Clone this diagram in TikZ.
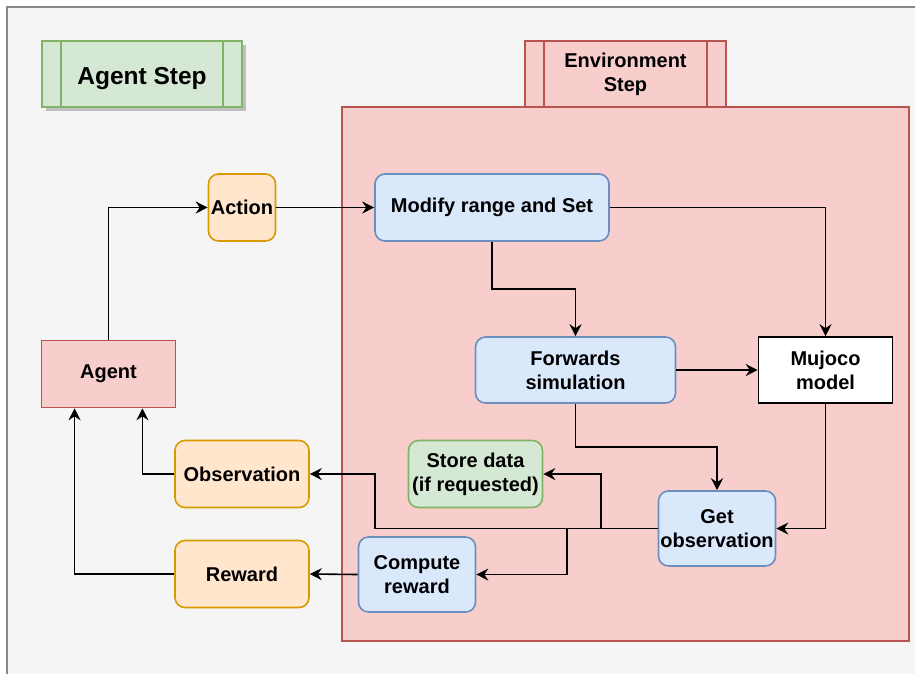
\documentclass[tikz,border=0pt]{standalone}
\usepackage{fontspec}
\setmainfont{Liberation Sans}
\usetikzlibrary{arrows.meta,calc}
\definecolor{grnF}{HTML}{D5E8D4}\definecolor{grnS}{HTML}{82B366}
\definecolor{redF}{HTML}{F8CECC}\definecolor{redS}{HTML}{B85450}
\definecolor{orgF}{HTML}{FFE6CC}\definecolor{orgS}{HTML}{D79B00}
\definecolor{bluF}{HTML}{DAE8FC}\definecolor{bluS}{HTML}{6C8EBF}
\definecolor{bgF}{HTML}{F5F5F5}\definecolor{bgS}{HTML}{888888}
\tikzset{
  base/.style={draw, line width=1.6pt, inner sep=0pt, align=center,
    font=\bfseries\fontsize{20}{24}\selectfont},
  bluebox/.style={base, fill=bluF, draw=bluS, rounded corners=10pt},
  orgbox/.style={base, fill=orgF, draw=orgS, rounded corners=10pt},
  grnbox/.style={base, fill=grnF, draw=grnS, rounded corners=10pt},
  redbox/.style={base, fill=redF, draw=redS},
  plainbox/.style={base, fill=white, draw=black},
  arr/.style={line width=1.6pt, -{Stealth[length=12pt,width=12pt,inset=4pt]}},
}
\begin{document}
\begin{tikzpicture}[x=1pt,y=-1pt]
\useasboundingbox (0,0) rectangle (915,673);
\clip (0,0) rectangle (915,673);
\fill[white] (0,0) rectangle (915,673);
\draw[fill=bgF, draw=bgS, line width=2pt] (7,7) rectangle (930,690);

% environment container
\node[redbox, minimum width=567pt, minimum height=534pt] (env) at (625.5,374) {};
\node[redbox, minimum width=201pt, minimum height=66pt] (envstep) at (625.5,74) {Environment\\Step};
\draw[redS, line width=1.6pt] ($(envstep.north west)+(20,0)$) -- ($(envstep.south west)+(20,0)$);
\draw[redS, line width=1.6pt] ($(envstep.north east)+(-20,0)$) -- ($(envstep.south east)+(-20,0)$);

% agent step
\fill[black!25] (46,45) rectangle (246,111);
\node[base, fill=grnF, draw=grnS, minimum width=200pt, minimum height=66pt,
  text height=22pt, text depth=2pt,
  font=\bfseries\fontsize{24.5}{29}\selectfont] (agentstep) at (142,74) {Agent Step};
\draw[grnS, line width=1.6pt] ($(agentstep.north west)+(20,0)$) -- ($(agentstep.south west)+(20,0)$);
\draw[grnS, line width=1.6pt] ($(agentstep.north east)+(-20,0)$) -- ($(agentstep.south east)+(-20,0)$);

% nodes
\node[orgbox, minimum width=67pt, minimum height=67pt] (action) at (242,207.5) {Action};
\node[bluebox, minimum width=234pt, minimum height=67pt] (modify) at (492,207.5) {Modify range and Set};
\node[bluebox, minimum width=200pt, minimum height=66pt] (fwd) at (575.5,370) {Forwards\\simulation};
\node[plainbox, minimum width=134pt, minimum height=66pt] (mujoco) at (825.5,370) {Mujoco\\model};
\node[redbox, minimum width=134pt, minimum height=67pt] (agent) at (108.5,374) {Agent};
\node[orgbox, minimum width=134pt, minimum height=67pt] (obs) at (242,474) {Observation};
\node[grnbox, minimum width=134pt, minimum height=67pt] (store) at (475.5,474) {Store data\\(if requested)};
\node[bluebox, minimum width=117pt, minimum height=75pt] (getobs) at (717,528.5) {Get\\observation};
\node[bluebox, minimum width=117pt, minimum height=75pt] (compute) at (417,574.5) {Compute\\reward};
\node[orgbox, minimum width=134pt, minimum height=67pt] (reward) at (242,574) {Reward};

\coordinate (j1) at (375,528.5);
\coordinate (j2) at (600.7,528.5);
\coordinate (j3) at (567,528.5);
\coordinate (agR) at ($(agent.south)!0.5!(agent.south east)$);
\coordinate (agL) at ($(agent.south)!0.5!(agent.south west)$);

% connectors
\draw[arr] (agent.north) |- (action.west);
\draw[arr] (action.east) -- (modify.west);
\draw[arr] (modify.east) -| (mujoco.north);
\draw[arr] (modify.south) |- ($(modify.south)!0.5!(fwd.north)$) -| (fwd.north);
\draw[arr] (fwd.east) -- (mujoco.west);
\draw[arr] (fwd.south) |- ($(fwd.south)!0.5!(getobs.north)$) -| (getobs.north);
\draw[arr] (mujoco.south) |- (getobs.east);
\draw[arr] (getobs.west) -- (j1) |- (obs.east);
\draw[arr] (j2) |- (store.east);
\draw[arr] (j3) |- (compute.east);
\draw[arr] (compute.west) -- (reward.east);
\draw[arr] (obs.west) -| (agR);
\draw[arr] (reward.west) -| (agL);
\end{tikzpicture}
\end{document}
